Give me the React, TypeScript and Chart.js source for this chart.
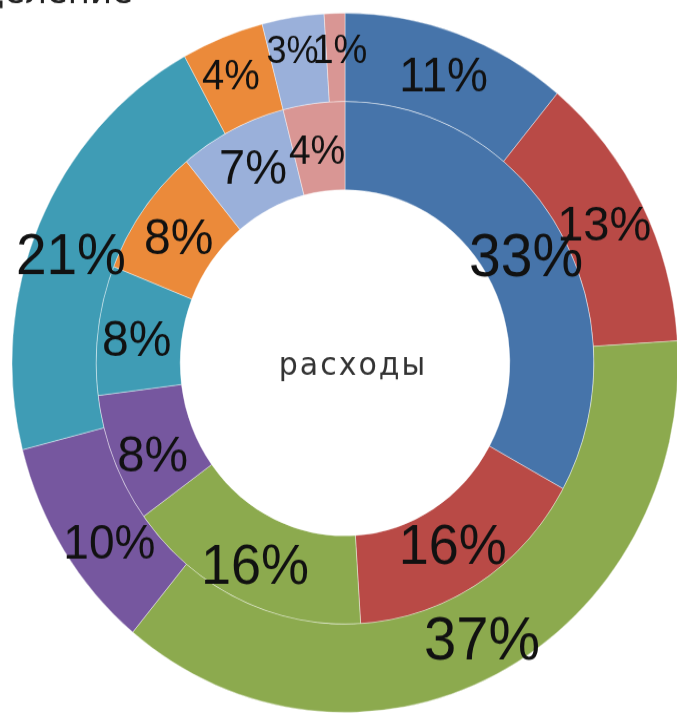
import { useEffect, useRef } from 'react';
import { Chart, registerables } from 'chart.js';

Chart.register(...registerables);

const categories = ['Статья 1', 'Статья 2', 'Статья 3', 'Статья 4', 'Статья 5', 'Статья 6', 'Статья 7', 'Статья 8'];
const outerValues = [11, 13, 37, 10, 21, 4, 3, 1];
const innerValues = [33, 16, 16, 8, 8, 8, 7, 4];
const centerText = 'расходы';
const titleText = 'распределение';

const colors = ['#4674AA', '#B94A46', '#8CAA4E', '#76579F', '#3F9CB5', '#EB8A3A', '#9AB0DA', '#D99694'];
const outerFontSizes = [46, 47, 58, 46, 55, 40, 36, 38];
const innerFontSizes = [57, 54, 54, 49, 48, 48, 47, 39];
// label nudges (style only), in px
const outerNudgeX = [0, 0, 5, 10, -7, -7, -7, 4];
const outerNudgeY = [3, 3, 8, 19, 17, -1, -8, -5];
const innerNudgeX = [3, -3, -2, 0, -3, 1, 2, -2];
const innerNudgeY = [7, 2, 9, 14, 7, 5, 1, 5];
const LABEL_FONT = '"Liberation Sans Narrow", "Liberation Sans", Arial, sans-serif';

export default function App() {
  const canvasRef = useRef<HTMLCanvasElement | null>(null);

  useEffect(() => {
    const canvas = canvasRef.current;
    if (!canvas) return;

    const labelPlugin = {
      id: 'pctLabels',
      afterDatasetsDraw(chart: any) {
        const ctx = chart.ctx as CanvasRenderingContext2D;
        ctx.save();
        ctx.textAlign = 'center';
        ctx.textBaseline = 'middle';
        ctx.fillStyle = '#111111';
        chart.data.datasets.forEach((ds: any, di: number) => {
          const meta = chart.getDatasetMeta(di);
          const vals = ds.data as number[];
          const sum = vals.reduce((a, b) => a + b, 0);
          const sizes = di === 0 ? outerFontSizes : innerFontSizes;
          const nx = di === 0 ? outerNudgeX : innerNudgeX;
          const ny = di === 0 ? outerNudgeY : innerNudgeY;
          meta.data.forEach((el: any, i: number) => {
            const pos = el.tooltipPosition();
            const pct = Math.round((vals[i] / sum) * 100) + '%';
            ctx.font = `${sizes[i]}px ${LABEL_FONT}`;
            ctx.fillText(pct, pos.x + nx[i], pos.y + ny[i] / 1.05);
          });
        });
        const area = chart.chartArea;
        const cx = (area.left + area.right) / 2;
        const cy = (area.top + area.bottom) / 2;
        ctx.font = '30px "DejaVu Sans", Verdana, sans-serif';
        (ctx as any).letterSpacing = '2px';
        ctx.fillStyle = '#333333';
        ctx.fillText(centerText, cx + 8, cy + 4);
        (ctx as any).letterSpacing = '0px';
        ctx.font = '34px "DejaVu Sans", Verdana, sans-serif';
        ctx.textAlign = 'right';
        ctx.textBaseline = 'alphabetic';
        ctx.fillStyle = '#222222';
        ctx.fillText(titleText, 133, 3);
        ctx.restore();
      },
    };

    const chart = new Chart(canvas, {
      type: 'doughnut',
      data: {
        labels: categories,
        datasets: [
          {
            data: outerValues,
            backgroundColor: colors,
            borderColor: 'rgba(255,255,255,0.4)',
            borderWidth: 1,
          },
          {
            data: innerValues,
            backgroundColor: colors,
            borderColor: 'rgba(255,255,255,0.4)',
            borderWidth: 1,
          },
        ],
      },
      options: {
        responsive: false,
        animation: false,
        radius: 333,
        cutout: '49.5%',
        layout: { padding: { left: 13, top: 11, right: 0, bottom: 0 } },
        plugins: {
          legend: { display: false },
          tooltip: { enabled: false },
          title: { display: false },
        },
      } as any,
      plugins: [labelPlugin],
    });
    return () => chart.destroy();
  }, []);

  return (
    <div style={{ position: 'absolute', left: 0, top: 0, width: 677, height: 714, overflow: 'hidden', background: '#fff' }}>
      <div style={{ transform: 'scaleY(1.05)', transformOrigin: '0 0', width: 677, height: 680 }}>
        <canvas ref={canvasRef} width={677} height={680} style={{ display: 'block' }} />
      </div>
    </div>
  );
}
